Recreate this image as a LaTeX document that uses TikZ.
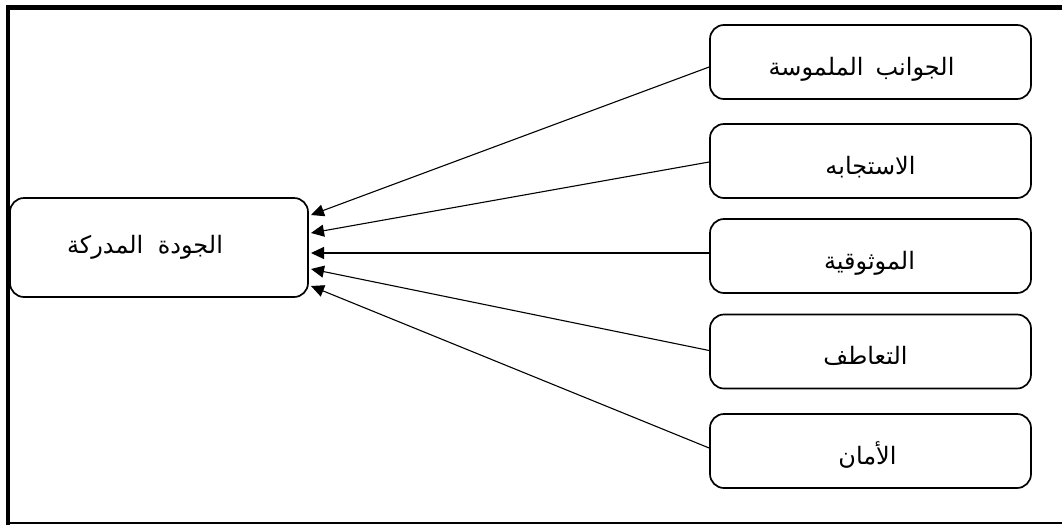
\documentclass[tikz,border=0pt]{standalone}
\usepackage{fontspec}
\usetikzlibrary{arrows.meta}
\TeXXeTstate=1
\newfontfamily\arabicfont[Script=Arabic]{DejaVu Sans}
\newcommand{\ar}[2]{\raisebox{-13pt}[0pt][0pt]{\beginR #1\endR\kern#2pt}}
\begin{document}
\begin{tikzpicture}[x=1pt,y=-1pt,
  box/.style={draw,line width=1.7pt,rounded corners=14pt,minimum width=321pt,minimum height=74pt,inner sep=0pt,font=\arabicfont\fontsize{24}{28}\selectfont},
  conn/.style={line width=1.1pt,-{Triangle[length=13pt,width=12pt]}}]
\useasboundingbox (0,0) rectangle (1062,525);
\draw[line width=5pt] (6,7.5) -- (1062,7.5);
\draw[line width=4pt] (8,5) -- (8,525);
\draw[line width=1.5pt] (6,523) -- (1062,523);
\node[box,minimum width=298pt,minimum height=99pt] (L) at (159,247.5) {\beginR الجودة\hspace{0.6em}المدركة\endR\kern28pt};
\node[box] (b1) at (870.5,62) {\ar{الجوانب\hspace{0.5em}الملموسة}{18}};
\node[box] (b2) at (870.5,161) {\ar{الاستجابه}{0}};
\node[box] (b3) at (870.5,256) {\ar{الموثوقية}{2}};
\node[box] (b4) at (870.5,351.5) {\ar{التعاطف}{10}};
\node[box] (b5) at (870.5,451) {\ar{الأمان}{6}};
\coordinate (t1) at (311,215);
\coordinate (t2) at (311,233);
\coordinate (t3) at (311,253);
\coordinate (t4) at (311,269);
\coordinate (t5) at (311,286);
\draw[conn] ([yshift=-5pt]b1.west) -- (t1);
\draw[conn] ([yshift=-1pt]b2.west) -- (t2);
\draw[conn] ([yshift=3pt]b3.west) -- (t3);
\draw[conn] ([yshift=1pt]b4.west) -- (t4);
\draw[conn] ([yshift=3pt]b5.west) -- (t5);
\end{tikzpicture}
\end{document}
